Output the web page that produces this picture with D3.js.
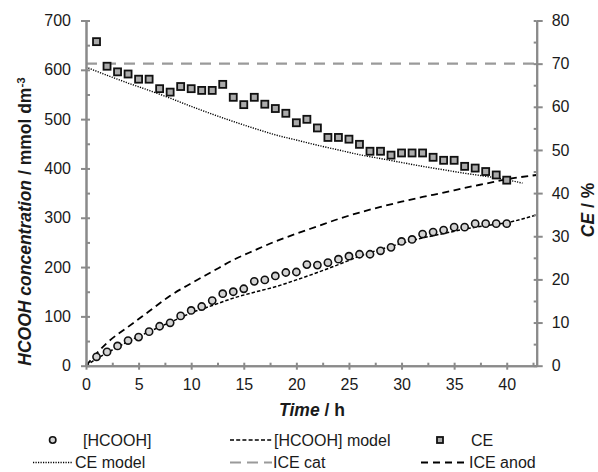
<!DOCTYPE html>
<html>
<head>
<meta charset="utf-8">
<script src="https://cdn.jsdelivr.net/npm/d3@7"></script>
<style>
  html, body { margin: 0; padding: 0; background: #fff; }
  svg { display: block; font-family: "Liberation Sans", Arial, sans-serif; }
</style>
</head>
<body>
<svg id="chart" width="598" height="472"></svg>
<script>
// Electrolysis run: formic acid build-up and current efficiency over time
const hours = [1, 2, 3, 4, 5, 6, 7, 8, 9, 10, 11, 12, 13, 14, 15, 16, 17, 18, 19, 20,
               21, 22, 23, 24, 25, 26, 27, 28, 29, 30, 31, 32, 33, 34, 35, 36, 37, 38, 39, 40];

// measured [HCOOH], mmol dm-3
const hcooh = [18, 28, 40, 51, 58, 69, 80, 87, 101, 112, 120, 132, 146, 150, 156, 171, 174, 182, 189, 190,
               205, 204, 209, 216, 222, 226, 226, 233, 240, 252, 256, 267, 271, 275, 281, 281, 288, 288, 288, 288];

// measured current efficiency, %
const ce = [75.1, 69.4, 68.1, 67.6, 66.4, 66.4, 64.2, 63.4, 64.7, 64.2, 63.8, 63.8, 65.2, 62.2, 60.5, 62.2, 60.6, 59.6, 58.5, 56.3,
            57.1, 55.1, 52.9, 52.9, 52.5, 51.3, 49.7, 49.7, 48.8, 49.3, 49.3, 49.3, 48.3, 47.6, 47.6, 46.2, 45.8, 45.0, 44.2, 43.0];

// [HCOOH] model
const hcoohModelT = [0, 1, 2, 4, 6, 8, 10, 12, 14, 16, 18, 20, 22, 24, 26, 28, 30, 32, 34, 36, 38, 40, 42.85];
const hcoohModelV = [0, 14, 26, 49, 69, 88, 107, 122, 137, 149, 160, 174, 189, 205, 222, 236, 248, 259, 268, 277, 284, 290, 306];

// CE model, %
const ceModelT = [0, 2, 4, 6, 8, 10, 12, 14, 16, 18, 20, 22, 24, 26, 28, 30, 32, 34, 36, 38, 40, 41.5];
const ceModelV = [69.2, 67.3, 65.5, 63.8, 62.0, 60.1, 58.3, 56.6, 55.0, 53.5, 52.3, 51.1, 50.0, 48.9, 48.0, 47.1, 46.2, 45.4, 44.6, 43.9, 43.1, 42.3];

// instantaneous CE, anode side, %
const iceAnodT = [0, 2, 4, 6, 8, 10, 12, 14, 16, 18, 20, 22, 24, 26, 28, 30, 32, 34, 36, 38, 40, 42.85];
const iceAnodV = [0, 5.3, 9.0, 12.6, 16.2, 19.1, 21.8, 24.5, 26.7, 28.8, 30.6, 32.3, 34.0, 35.5, 36.8, 38.0, 39.1, 40.1, 41.2, 42.2, 43.2, 44.2];

// instantaneous CE, cathode side, %
const iceCatT = [0, 42.85];
const iceCatV = [70, 70];

// axis ranges and ticks
const timeMax = 42.85;
const concMax = 700;
const ceMax = 80;
const timeTicks = [0, 5, 10, 15, 20, 25, 30, 35, 40];
const timeMinor = [0, 2.5, 5, 7.5, 10, 12.5, 15, 17.5, 20, 22.5, 25, 27.5, 30, 32.5, 35, 37.5, 40, 42.5];
const concTicks = [0, 100, 200, 300, 400, 500, 600, 700];
const concMinor = [0, 50, 100, 150, 200, 250, 300, 350, 400, 450, 500, 550, 600, 650, 700];
const ceTicks = [0, 10, 20, 30, 40, 50, 60, 70, 80];
const ceMinor = [0, 5, 10, 15, 20, 25, 30, 35, 40, 45, 50, 55, 60, 65, 70, 75, 80];

const svg = d3.select("#chart");
const plotLeft = 86, plotRight = 536.7, plotTop = 20.5, plotBottom = 365.7;
const axisColor = "#8a8a8a";

const x = d3.scaleLinear().domain([0, timeMax]).range([plotLeft, plotRight]);
const yL = d3.scaleLinear().domain([0, concMax]).range([plotBottom, plotTop]);
const yR = d3.scaleLinear().domain([0, ceMax]).range([plotBottom, plotTop]);

function styleAxis(g, withText) {
  g.select(".domain").attr("stroke", axisColor).attr("stroke-width", 2);
  g.selectAll(".tick line").attr("stroke", axisColor).attr("stroke-width", 2);
  if (withText) {
    g.selectAll(".tick text").attr("fill", "#1a1a1a").style("font-size", "16px")
      .style("font-family", '"Liberation Sans", Arial, sans-serif');
  }
}

// ---- lines ----
const pairs = (ts, vs) => ts.map((t, i) => [t, vs[i]]);

const lineL = d3.line().x(d => x(d[0])).y(d => yL(d[1])).curve(d3.curveMonotoneX);
const lineR = d3.line().x(d => x(d[0])).y(d => yR(d[1])).curve(d3.curveMonotoneX);

const lines = svg.append("g").attr("fill", "none");

lines.append("path")
  .attr("d", lineR(pairs(iceCatT, iceCatV)))
  .attr("stroke", "#9a9a9a").attr("stroke-width", 2.2)
  .attr("stroke-dasharray", "11,8");

lines.append("path")
  .attr("d", lineR(pairs(ceModelT, ceModelV)))
  .attr("stroke", "#000").attr("stroke-width", 1.4)
  .attr("stroke-dasharray", "1.2,1.3");

lines.append("path")
  .attr("d", lineR(pairs(iceAnodT, iceAnodV)))
  .attr("stroke", "#000").attr("stroke-width", 1.8)
  .attr("stroke-dasharray", "7,4.5");

lines.append("path")
  .attr("d", lineL(pairs(hcoohModelT, hcoohModelV)))
  .attr("stroke", "#000").attr("stroke-width", 1.5)
  .attr("stroke-dasharray", "3.5,2");

// ---- axes ----
// left axis: outward major ticks with labels, inward minor ticks
const gL = svg.append("g").attr("transform", `translate(${plotLeft},0)`)
  .call(d3.axisLeft(yL).tickValues(concTicks).tickSize(5).tickSizeOuter(0).tickPadding(10));
styleAxis(gL, true);
const gLi = svg.append("g").attr("transform", `translate(${plotLeft},0)`)
  .call(d3.axisRight(yL).tickValues(concMinor).tickSize(4).tickSizeOuter(0).tickFormat(""));
styleAxis(gLi, false);

// right axis
const gR = svg.append("g").attr("transform", `translate(${plotRight},0)`)
  .call(d3.axisRight(yR).tickValues(ceTicks).tickSize(6).tickSizeOuter(0).tickPadding(9));
styleAxis(gR, true);
const gRi = svg.append("g").attr("transform", `translate(${plotRight},0)`)
  .call(d3.axisLeft(yR).tickValues(ceMinor).tickSize(3).tickSizeOuter(0).tickFormat(""));
styleAxis(gRi, false);

// bottom axis
const gB = svg.append("g").attr("transform", `translate(0,${plotBottom})`)
  .call(d3.axisBottom(x).tickValues(timeTicks).tickSize(4).tickSizeOuter(0).tickPadding(8.5));
styleAxis(gB, true);
const gBi = svg.append("g").attr("transform", `translate(0,${plotBottom})`)
  .call(d3.axisTop(x).tickValues(timeMinor).tickSize(3).tickSizeOuter(0).tickFormat(""));
styleAxis(gBi, false);

// ---- markers ----
svg.append("g").selectAll("circle")
  .data(hours.map((t, i) => [t, hcooh[i]]))
  .join("circle")
  .attr("cx", d => x(d[0])).attr("cy", d => yL(d[1]))
  .attr("r", 3.6)
  .attr("fill", "#d4d4d4").attr("stroke", "#111").attr("stroke-width", 1.6);

const sq = 7;
svg.append("g").selectAll("rect")
  .data(hours.map((t, i) => [t, ce[i]]))
  .join("rect")
  .attr("x", d => x(d[0]) - sq / 2).attr("y", d => yR(d[1]) - sq / 2)
  .attr("width", sq).attr("height", sq)
  .attr("fill", "#ababab").attr("stroke", "#111").attr("stroke-width", 1.8);

// ---- axis titles ----
const yTitle = svg.append("text")
  .attr("transform", "translate(30.5,221.5) rotate(-90)")
  .attr("text-anchor", "middle")
  .attr("fill", "#1a1a1a")
  .style("font-size", "17.5px").style("font-weight", "bold");
yTitle.append("tspan").style("font-style", "italic").text("HCOOH concentration");
yTitle.append("tspan").text(" / mmol dm");
yTitle.append("tspan").attr("dy", "-0.45em").style("font-size", "11.5px").text("-3");

const rTitle = svg.append("text")
  .attr("transform", "translate(594,210) rotate(-90)")
  .attr("text-anchor", "middle")
  .attr("fill", "#1a1a1a")
  .style("font-size", "17.5px").style("font-weight", "bold");
rTitle.append("tspan").style("font-style", "italic").text("CE");
rTitle.append("tspan").text(" / %");

const xTitle = svg.append("text")
  .attr("x", 312).attr("y", 415.5)
  .attr("text-anchor", "middle")
  .attr("fill", "#1a1a1a")
  .style("font-size", "17.5px").style("font-weight", "bold");
xTitle.append("tspan").style("font-style", "italic").text("Time");
xTitle.append("tspan").text(" / h");

// ---- legend ----
const legend = svg.append("g").style("font-size", "16px").attr("fill", "#1a1a1a");
const row1 = 440, row2 = 462.5;

legend.append("circle").attr("cx", 52.7).attr("cy", row1).attr("r", 3.2)
  .attr("fill", "#d4d4d4").attr("stroke", "#111").attr("stroke-width", 1.6);
legend.append("text").attr("x", 83).attr("y", row1 + 5.7).text("[HCOOH]");

legend.append("line").attr("x1", 230).attr("x2", 273).attr("y1", row1).attr("y2", row1)
  .attr("stroke", "#000").attr("stroke-width", 1.5).attr("stroke-dasharray", "4,2.2");
legend.append("text").attr("x", 274).attr("y", row1 + 5.7).text("[HCOOH] model");

legend.append("rect").attr("x", 440 - 3).attr("y", row1 - 3).attr("width", 6).attr("height", 6)
  .attr("fill", "#ababab").attr("stroke", "#111").attr("stroke-width", 1.8);
legend.append("text").attr("x", 471).attr("y", row1 + 5.7).text("CE");

legend.append("line").attr("x1", 33).attr("x2", 72).attr("y1", row2).attr("y2", row2)
  .attr("stroke", "#000").attr("stroke-width", 1.3).attr("stroke-dasharray", "1.2,1.3");
legend.append("text").attr("x", 75).attr("y", row2 + 5.7).text("CE model");

legend.append("line").attr("x1", 230).attr("x2", 272).attr("y1", row2).attr("y2", row2)
  .attr("stroke", "#9a9a9a").attr("stroke-width", 2.2).attr("stroke-dasharray", "11,6");
legend.append("text").attr("x", 273).attr("y", row2 + 5.7).text("ICE cat");

legend.append("line").attr("x1", 421).attr("x2", 467).attr("y1", row2).attr("y2", row2)
  .attr("stroke", "#000").attr("stroke-width", 1.8).attr("stroke-dasharray", "7,5");
legend.append("text").attr("x", 469).attr("y", row2 + 5.7).text("ICE anod");
</script>
</body>
</html>
